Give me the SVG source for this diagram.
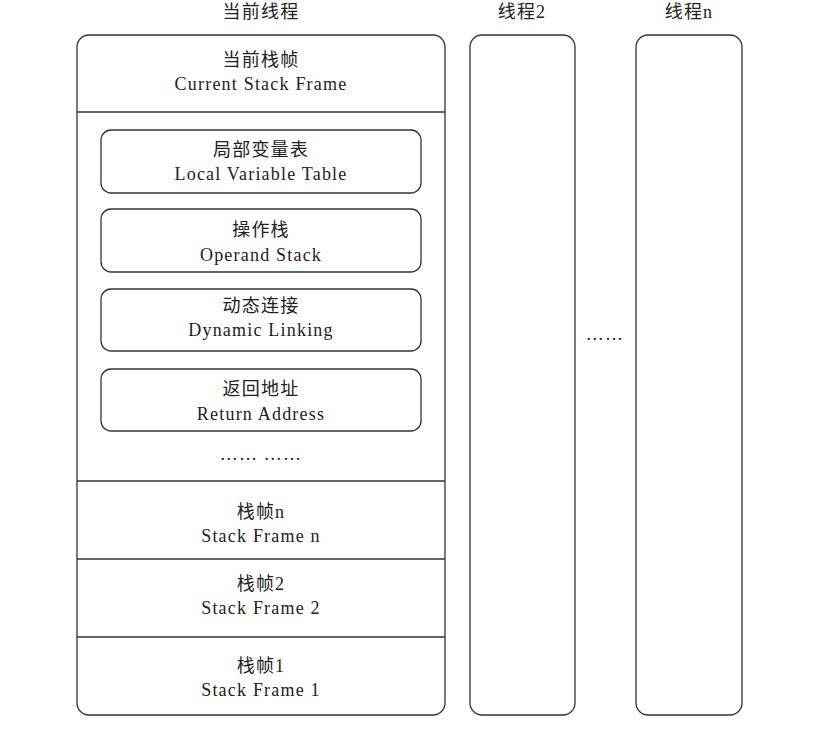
<svg xmlns="http://www.w3.org/2000/svg" width="837" height="734" viewBox="0 0 837 734">
<style>
.b{fill:#fff;stroke:#333;stroke-width:1.3}
.l{stroke:#333;stroke-width:1.3}
text{font-family:"Liberation Serif","Noto Sans CJK SC",serif;font-size:18px;letter-spacing:1.2px;fill:#222;text-anchor:middle}
</style>
<rect width="837" height="734" fill="#fff"/>
<g id="titles">
<text x="261" y="18">当前线程</text>
<text x="522" y="18">线程2</text>
<text x="689" y="18">线程n</text>
</g>
<g id="current-thread">
<rect class="b" x="77" y="35" width="368" height="680" rx="12"/>
<line class="l" x1="77" y1="112" x2="445" y2="112"/>
<line class="l" x1="77" y1="481" x2="445" y2="481"/>
<line class="l" x1="77" y1="559" x2="445" y2="559"/>
<line class="l" x1="77" y1="637" x2="445" y2="637"/>
<text x="261" y="66">当前栈帧</text><text x="261" y="90">Current Stack Frame</text>
<text x="261" y="460">…… ……</text>
<text x="261" y="518">栈帧n</text><text x="261" y="542">Stack Frame n</text>
<text x="261" y="590">栈帧2</text><text x="261" y="614">Stack Frame 2</text>
<text x="261" y="672">栈帧1</text><text x="261" y="696">Stack Frame 1</text>
</g>
<g id="lvt"><rect class="b" x="101" y="130" width="320" height="63" rx="10"/><text x="261" y="156">局部变量表</text><text x="261" y="180">Local Variable Table</text></g>
<g id="os"><rect class="b" x="101" y="209" width="320" height="63" rx="10"/><text x="261" y="236">操作栈</text><text x="261" y="261">Operand Stack</text></g>
<g id="dl"><rect class="b" x="101" y="289" width="320" height="62" rx="10"/><text x="261" y="312">动态连接</text><text x="261" y="336">Dynamic Linking</text></g>
<g id="ra"><rect class="b" x="101" y="369" width="320" height="62" rx="10"/><text x="261" y="395">返回地址</text><text x="261" y="420">Return Address</text></g>
<g id="thread2"><rect class="b" x="470" y="35" width="105" height="680" rx="12"/></g>
<g id="dots"><text x="605" y="340">……</text></g>
<g id="threadn"><rect class="b" x="636" y="35" width="106" height="680" rx="12"/></g>
<g id="connectors"></g>
</svg>
